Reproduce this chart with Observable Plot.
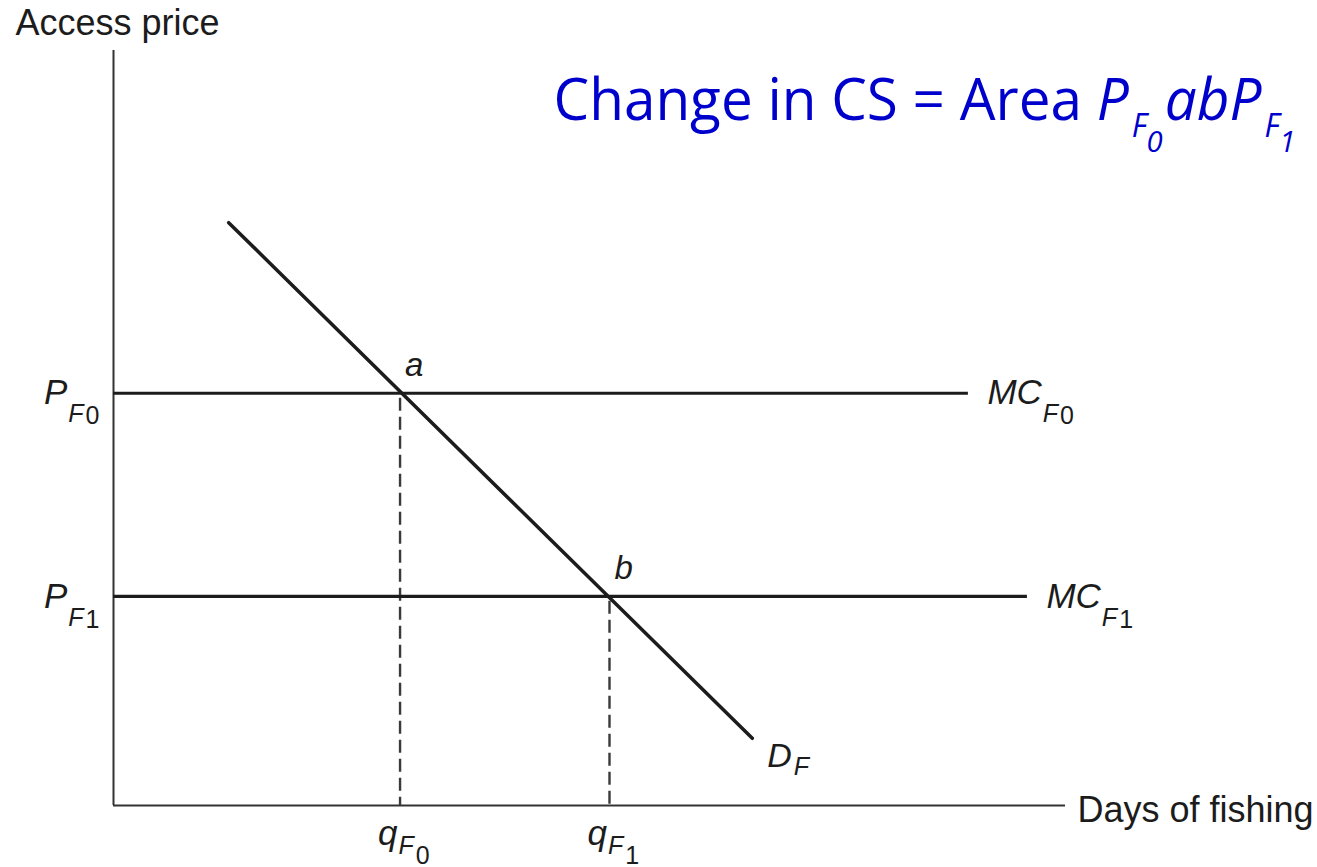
<!DOCTYPE html>
<html><head><meta charset="utf-8">
<script src="https://cdn.jsdelivr.net/npm/d3@7"></script>
<script src="https://cdn.jsdelivr.net/npm/@observablehq/plot@0.6"></script>
<style>body{margin:0;background:#fff}</style>
</head><body><div id="chart"></div>
<script>
// ---- data (diagram units: 0..100 on each axis) ----
const quantityLabels = ["q|F|0", "q|F|1"];
const priceLabels = ["P|F|0", "P|F|1"];
const mcLabels = ["MC|F|0", "MC|F|1"];
const pointLabels = ["a", "b"];
const quantities = [30.1, 52.1];
const prices = [54.6, 27.7];
const mcEnds = [89.8, 96.0];
const demandX = [12.1, 67.1];
const demandY = [77.2, 8.9];
const demandLabel = ["D|F"];
const xAxisLabel = ["Days of fishing"];
const yAxisLabel = ["Access price"];
const titleText = ["Change in CS = Area |P|F|0|ab|P|F|1"];

const eq = quantities.map((q, i) => ({
  q, p: prices[i], mcEnd: mcEnds[i],
  qLabel: quantityLabels[i], pLabel: priceLabels[i], mcLabel: mcLabels[i], pt: pointLabels[i]
}));
const demand = demandX.map((x, i) => ({x, y: demandY[i]}));
const dEnd = [{x: demandX[1], y: demandY[1], t: demandLabel[0]}];

const ink = "#1c1c1c";
const sans = "Liberation Sans, Arial, Helvetica, sans-serif";

const chart = Plot.plot({
  width: 1317, height: 867, margin: 0,
  x: {domain: [0, 100], range: [113, 1065], axis: null},
  y: {domain: [0, 100], range: [805, 50], axis: null},
  style: {background: "#fff"},
  marks: [
    // axes
    Plot.ruleY([0], {x1: 0, x2: 100, stroke: "#333", strokeWidth: 2}),
    Plot.ruleX([0], {y1: 0, y2: 100, stroke: "#333", strokeWidth: 2}),
    // dashed drop lines
    Plot.ruleX(eq, {x: "q", y1: "p", y2: 0, stroke: "#3a3a3a", strokeWidth: 2.4, strokeDasharray: "13,6", strokeDashoffset: -5}),
    // MC lines
    Plot.ruleY(eq, {y: "p", x1: 0, x2: "mcEnd", stroke: ink, strokeWidth: 3.2}),
    // demand
    Plot.line(demand, {x: "x", y: "y", stroke: ink, strokeWidth: 3.5}),
    // labels
    Plot.text(eq, {x: 0, y: "p", text: "pLabel", textAnchor: "end", dx: -14, fontFamily: sans, fontSize: 35, fontStyle: "italic", fill: ink, className: "sub1"}),
    Plot.text(eq, {x: "mcEnd", y: "p", text: "mcLabel", textAnchor: "start", dx: 19, fontFamily: sans, fontSize: 35, fontStyle: "italic", fill: ink, className: "sub1"}),
    Plot.text(eq, {x: "q", y: 0, text: "qLabel", textAnchor: "start", dx: -22, dy: 28, fontFamily: sans, fontSize: 35, fontStyle: "italic", fill: ink, className: "sub2"}),
    Plot.text(eq, {x: "q", y: "p", text: "pt", textAnchor: "start", dx: 5, dy: -28, fontFamily: sans, fontSize: 33, fontStyle: "italic", fill: ink}),
    Plot.text(dEnd, {x: "x", y: "y", text: "t", textAnchor: "start", dx: 15, dy: 18, fontFamily: sans, fontSize: 34, fontStyle: "italic", fill: ink, className: "sub3"}),
    Plot.text(xAxisLabel, {x: 100, y: 0, text: d => d, textAnchor: "start", dx: 12, dy: 5, fontFamily: sans, fontSize: 36, fill: ink}),
    Plot.text(yAxisLabel, {x: 0, y: 100, text: d => d, textAnchor: "start", dx: -98, dy: -27, fontFamily: sans, fontSize: 36, fill: ink}),
    Plot.text(titleText, {frameAnchor: "top-right", lineAnchor: "middle", text: d => d, textAnchor: "end", dx: -22, dy: 101, fontFamily: "Open Sans, Noto Sans, sans-serif", fontSize: 58, fill: "#0000cc", className: "titletext"})
  ]
});
document.getElementById("chart").appendChild(chart);

function richText(cls, spec, after) {
  d3.select(chart).selectAll(`g.${cls} text`).each(function() {
    const el = d3.select(this);
    const parts = el.text().split("|");
    el.text(null);
    parts.forEach((s, i) => {
      const sp = spec[i] || {};
      const t = el.append("tspan").text(s);
      if (sp.size) t.attr("font-size", sp.size);
      if (sp.dy) t.attr("dy", sp.dy);
      if (sp.dx) t.attr("dx", sp.dx);
      if (sp.style) t.attr("font-style", sp.style);
    });
    if (after) after(el);
  });
}
richText("sub1", [{}, {size: 25, dy: 18, dx: 1}, {size: 25, dy: 2, dx: 2, style: "normal"}]);
richText("sub2", [{}, {size: 25, dy: 9, dx: 1}, {size: 25, dy: 10, dx: 2, style: "normal"}]);
richText("sub3", [{}, {size: 25, dy: 8, dx: 2}]);
richText("titletext", [
  {style: "normal"}, {style: "italic"},
  {style: "italic", size: 32, dy: 17, dx: 3}, {style: "italic", size: 30, dy: 15},
  {style: "italic", size: 58, dy: -32, dx: 2}, {style: "italic"},
  {style: "italic", size: 32, dy: 17, dx: 3}, {style: "italic", size: 30, dy: 15}
], el => el.attr("textLength", 742).attr("lengthAdjust", "spacingAndGlyphs"));
</script>
</body></html>
